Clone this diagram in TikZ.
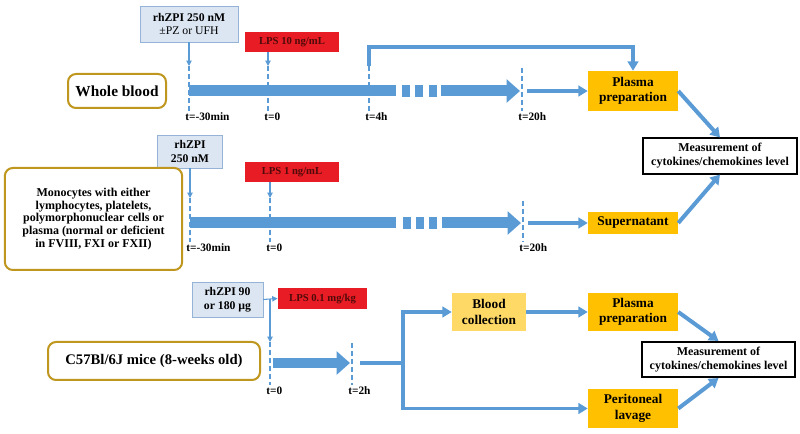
\documentclass[tikz,border=0pt]{standalone}
\usepackage{fontspec}
\setmainfont{Liberation Serif}
\usetikzlibrary{arrows.meta}
\definecolor{ColArrow}{RGB}{91,155,213}
\definecolor{ColDrug}{RGB}{220,230,242}
\definecolor{ColDrugLine}{RGB}{149,179,215}
\definecolor{ColLps}{RGB}{232,28,36}
\definecolor{ColLpsText}{RGB}{80,10,10}
\definecolor{ColStep}{RGB}{255,192,0}
\definecolor{ColStepLight}{RGB}{255,217,102}
\definecolor{ColGold}{RGB}{191,150,30}
\tikzstyle{NodeDrug}=[draw=ColDrugLine,fill=ColDrug,inner sep=1pt,align=center,
font=\fontsize{8.8}{10.2}\selectfont\bfseries]
\tikzstyle{NodeLps}=[fill=ColLps,text=ColLpsText,inner sep=1pt,minimum height=15pt,
font=\fontsize{8}{9}\selectfont\bfseries]
\tikzstyle{NodeSample}=[draw=ColGold,fill=white,rounded corners=6pt,line width=1.5pt,
align=center,inner sep=1pt]
\tikzstyle{NodeStep}=[fill=ColStep,minimum width=67.5pt,inner sep=1pt,align=center,
font=\fontsize{10}{11.5}\selectfont\bfseries]
\tikzstyle{NodeMeasure}=[draw=black,fill=white,line width=1.3pt,minimum width=115pt,
minimum height=26.5pt,inner sep=1pt,align=center,font=\fontsize{9}{10.5}\selectfont\bfseries]
\tikzstyle{NodeTime}=[anchor=west,inner sep=1.5pt,font=\fontsize{8.5}{9}\selectfont\bfseries]
\tikzstyle{EdgeThin}=[ColArrow,line width=2.4pt,-{Triangle[length=7pt,width=8pt]}]
\tikzstyle{EdgeDiag}=[ColArrow,line width=3pt,-{Triangle[length=7pt,width=8.5pt]}]
\tikzstyle{EdgeDrug}=[ColArrow,line width=0.8pt,-{Triangle[length=4pt,width=4pt]}]
\tikzstyle{EdgeDash}=[ColArrow,line width=1.2pt,dash pattern=on 3.5pt off 2.5pt]
\tikzstyle{EdgeBar}=[ColArrow,line width=8.25pt]
\tikzstyle{EdgeBarArrow}=[ColArrow,line width=8.25pt,-{Triangle[length=10pt,width=17pt]}]

\begin{document}
\begin{tikzpicture}[x=0.75pt,y=-0.75pt]
        \useasboundingbox(0,0)rectangle(800,434);
        % whole blood
        \node[NodeDrug,minimum width=73.5pt,minimum height=27pt](zpiA)at(189,24){rhZPI 250 nM\\{\mdseries ±PZ or UFH}};
        \node[NodeLps,minimum width=71pt](lpsA)at(292,42){LPS 10 ng/mL};
        \node[NodeSample,minimum width=73.5pt,minimum height=25.5pt,font=\fontsize{11.5}{13}\selectfont\bfseries](wholeA)at(117,91){Whole blood};
        \node[NodeStep,minimum height=30pt](plasA)at(633,91){Plasma\\preparation};
        \node[NodeMeasure](measA)at(720,156){Measurement of\\cytokines/chemokines level};
        \coordinate(tA1)at(189,66);
        \coordinate(tB1)at(268,66);
        \coordinate(tC1)at(369,66);
        \coordinate(tD1)at(522,68);
        \coordinate(upA)at(369,47);
        \coordinate(oA)at(527,91);
        \node[NodeTime](lA1)at(183,117){t=-30min};
        \node[NodeTime](lB1)at(262,117){t=0};
        \node[NodeTime](lC1)at(363,117){t=4h};
        \node[NodeTime](lD1)at(516,117){t=20h};
        \draw[EdgeBar](189,91)--(396,91);
        \foreach \x in {402,415,429}\fill[ColArrow](\x,85)rectangle++(8,12);
        \draw[EdgeBarArrow](441,91)--(520,91);
        \draw[EdgeDrug](zpiA.south)--(tA1);
        \draw[EdgeDrug](tB1|-lpsA.south)--(tB1);
        \draw[EdgeDash](tA1)--(tA1|-lA1.north);
        \draw[EdgeDash](tB1)--(tB1|-lB1.north);
        \draw[EdgeDash](tC1)--(tC1|-lC1.north);
        \draw[EdgeDash](tD1)--(tD1|-lD1.north);
        \draw[EdgeThin](tC1)--(upA)-|(plasA.north);
        \draw[EdgeThin](oA)--(plasA.west);
        \draw[EdgeDiag](plasA.east)--(measA.north);
        % monocytes
        \node[NodeDrug,minimum width=49pt,minimum height=25pt](zpiB)at(190,151.5){rhZPI\\250 nM};
        \node[NodeLps,minimum width=71pt](lpsB)at(292,172){LPS 1 ng/mL};
        \node[NodeSample,minimum width=133pt,minimum height=76.5pt,font=\fontsize{9}{9.6}\selectfont\bfseries](monoB)at(93.5,219){Monocytes with either\\lymphocytes, platelets,\\polymorphonuclear cells or\\plasma (normal or deficient\\in FVIII, FXI or FXII)};
        \node[NodeStep,minimum height=16pt](supB)at(633,223){Supernatant};
        \coordinate(tA2)at(190,198);
        \coordinate(tB2)at(270,198);
        \coordinate(tD2)at(523,201);
        \coordinate(oB)at(528,223);
        \node[NodeTime](lA2)at(184,248){t=-30min};
        \node[NodeTime](lB2)at(264,248){t=0};
        \node[NodeTime](lD2)at(517,248){t=20h};
        \draw[EdgeBar](190,223)--(396,223);
        \foreach \x in {403,416,429}\fill[ColArrow](\x,217)rectangle++(8,12);
        \draw[EdgeBarArrow](442,223)--(521,223);
        \draw[EdgeDrug](zpiB.south)--(tA2);
        \draw[EdgeDrug](tB2|-lpsB.south)--(tB2);
        \draw[EdgeDash](tA2)--(tA2|-lA2.north);
        \draw[EdgeDash](tB2)--(tB2|-lB2.north);
        \draw[EdgeDash](tD2)--(tD2|-lD2.north);
        \draw[EdgeThin](oB)--(supB.west);
        \draw[EdgeDiag](supB.east)--(measA.south);
        % mice
        \node[NodeDrug,minimum width=53pt,minimum height=26pt](zpiC)at(227.5,299.5){rhZPI 90\\or 180 µg};
        \node[NodeLps,minimum width=67pt,minimum height=16pt](lpsC)at(322.5,298.5){LPS 0.1 mg/kg};
        \node[NodeSample,minimum width=159pt,minimum height=28.5pt,font=\fontsize{11}{13}\selectfont\bfseries](miceC)at(154,361){C57Bl/6J mice (8-weeks old)};
        \node[NodeStep,fill=ColStepLight,minimum width=55.5pt,minimum height=29pt](bloodC)at(489,312){Blood\\collection};
        \node[NodeStep,minimum height=28.5pt](plasC)at(633,312){Plasma\\preparation};
        \node[NodeStep,minimum height=29pt](periC)at(633,408.5){Peritoneal\\lavage};
        \node[NodeMeasure](measC)at(718.5,359.5){Measurement of\\cytokines/chemokines level};
        \coordinate(tA3)at(270,342);
        \coordinate(tB3)at(352,343);
        \coordinate(oC)at(360,363);
        \coordinate(forkC)at(403,363);
        \node[NodeTime](lA3)at(264,391){t=0};
        \node[NodeTime](lB3)at(346,391){t=2h};
        \draw[EdgeDrug](zpiC.east)--(lpsC.west);
        \draw[EdgeDrug](tA3|-zpiC.east)--(tA3);
        \draw[EdgeDash](tA3)--(tA3|-lA3.north);
        \draw[EdgeDash](tB3)--(tB3|-lB3.north);
        \draw[EdgeBarArrow,line width=7.5pt](273,363)--(350,363);
        \draw[ColArrow,line width=2.4pt](oC)--(forkC);
        \draw[EdgeThin](forkC)|-(bloodC.west);
        \draw[EdgeThin](forkC)|-(periC.west);
        \draw[EdgeThin](bloodC.east)--(plasC.west);
        \draw[EdgeDiag](plasC.east)--(measC.north);
        \draw[EdgeDiag](periC.east)--(measC.south);
    \end{tikzpicture}
\end{document}
